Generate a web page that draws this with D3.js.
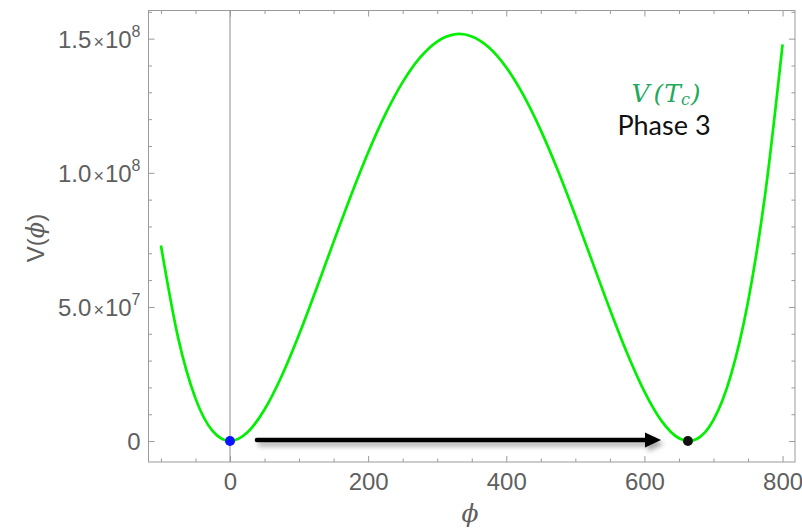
<!DOCTYPE html>
<html>
<head>
<meta charset="utf-8">
<script src="https://cdn.jsdelivr.net/npm/d3@7"></script>
<style>
  html, body { margin: 0; padding: 0; background: #fff; }
  svg { display: block; }
</style>
</head>
<body>
<svg id="chart" width="802" height="532"></svg>
<script>
// ---- data ----
const phiValues = [-100, -75, -50, -25, 0, 25, 50, 75, 100, 125, 150, 175, 200, 225, 250, 275, 300, 325, 332, 350, 375, 400, 425, 450, 475, 500, 525, 550, 575, 600, 625, 650, 664, 675, 700, 725, 750, 775, 800];
const potentialValues = [7.29e7, 3.837e7, 1.592e7, 3.706e6, 0, 3.188e6, 1.177e7, 2.437e7, 3.973e7, 5.67e7, 7.425e7, 9.147e7, 1.0756e8, 1.2186e8, 1.338e8, 1.4293e8, 1.4894e8, 1.5161e8, 1.5175e8, 1.5085e8, 1.467e8, 1.3928e8, 1.2887e8, 1.1583e8, 1.0066e8, 8.398e7, 6.651e7, 4.91e7, 3.271e7, 1.842e7, 7.42e6, 1.03e6, 0, 6.9e5, 7.93e6, 2.443e7, 5.196e7, 9.243e7, 1.4785e8];
const xTickValues = [0, 200, 400, 600, 800];
const xMinorTickValues = [-100, -50, 50, 100, 150, 250, 300, 350, 450, 500, 550, 650, 700, 750];
const yTickValues = [0, 5e7, 1e8, 1.5e8];
const yTickMantissa = ["0", "5.0", "1.0", "1.5"];
const yTickExponent = ["", "7", "8", "8"];
const yMinorTickValues = [1e7, 2e7, 3e7, 4e7, 6e7, 7e7, 8e7, 9e7, 1.1e8, 1.2e8, 1.3e8, 1.4e8, 1.6e8];
const falseVacuum = [0, 0];
const trueVacuum = [663, 0];
const arrowStart = [39, 0];
const arrowEnd = [624, 0];
const legendLines = ["V(T_c)", "Phase 3"];

// ---- layout ----
const svg = d3.select("#chart");
const plotLeft = 148.5, plotRight = 795, plotTop = 10.5, plotBottom = 462;
const x = d3.scaleLinear().domain([-118, 818]).range([plotLeft, plotRight]);
const y = d3.scaleLinear().domain([-7.8e6, 1.605e8]).range([plotBottom, plotTop]);
const frameColor = "#9a9a9a";
const labelColor = "#5f5f5f";
const tickFont = "'Liberation Sans', Arimo, Arial, sans-serif";

const defs = svg.append("defs");
const shadow = defs.append("filter").attr("id", "shadow")
  .attr("filterUnits", "userSpaceOnUse")
  .attr("x", 0).attr("y", 0).attr("width", 802).attr("height", 532);
shadow.append("feDropShadow").attr("dx", 3).attr("dy", 4).attr("stdDeviation", 2.5)
  .attr("flood-color", "#000").attr("flood-opacity", 0.35);

// vertical axis line at phi = 0
svg.append("line")
  .attr("x1", x(0)).attr("x2", x(0)).attr("y1", plotTop).attr("y2", plotBottom)
  .attr("stroke", "#8c8c8c").attr("stroke-width", 1);

// axes (ticks inward)
function styleAxis(g) {
  g.select(".domain").remove();
  g.selectAll(".tick line").attr("stroke", frameColor).attr("stroke-width", 1);
}
const fmtNone = () => "";
svg.append("g").attr("transform", `translate(0,${plotBottom})`)
  .call(d3.axisBottom(x).tickValues(xMinorTickValues).tickSize(-3.5).tickFormat(fmtNone)).call(styleAxis);
const xAxisG = svg.append("g").attr("transform", `translate(0,${plotBottom})`)
  .call(d3.axisBottom(x).tickValues(xTickValues).tickSize(-6).tickPadding(11)).call(styleAxis);
xAxisG.selectAll(".tick text")
  .attr("fill", labelColor).attr("font-family", tickFont).attr("font-size", 24);

svg.append("g").attr("transform", `translate(0,${plotTop})`)
  .call(d3.axisTop(x).tickValues(xMinorTickValues).tickSize(-3.5).tickFormat(fmtNone)).call(styleAxis);
svg.append("g").attr("transform", `translate(0,${plotTop})`)
  .call(d3.axisTop(x).tickValues(xTickValues).tickSize(-6).tickFormat(fmtNone)).call(styleAxis);

svg.append("g").attr("transform", `translate(${plotLeft},0)`)
  .call(d3.axisLeft(y).tickValues(yMinorTickValues).tickSize(-3.5).tickFormat(fmtNone)).call(styleAxis);
const yAxisG = svg.append("g").attr("transform", `translate(${plotLeft},0)`)
  .call(d3.axisLeft(y).tickValues(yTickValues).tickSize(-6).tickPadding(8)).call(styleAxis);
yAxisG.selectAll(".tick text").each(function(d) {
  const t = d3.select(this).text("")
    .attr("fill", labelColor).attr("font-family", tickFont).attr("font-size", 24)
    .attr("dy", "0.36em");
  const k = yTickValues.indexOf(d);
  t.append("tspan").text(yTickMantissa[k]);
  if (yTickExponent[k] !== "") {
    t.append("tspan").attr("dx", 2).attr("font-size", 18).text("\u00d7");
    t.append("tspan").attr("dx", 1).text("10");
    t.append("tspan").attr("font-size", 16).attr("dy", -11).text(yTickExponent[k]);
  }
});

svg.append("g").attr("transform", `translate(${plotRight},0)`)
  .call(d3.axisRight(y).tickValues(yMinorTickValues).tickSize(-3.5).tickFormat(fmtNone)).call(styleAxis);
svg.append("g").attr("transform", `translate(${plotRight},0)`)
  .call(d3.axisRight(y).tickValues(yTickValues).tickSize(-6).tickFormat(fmtNone)).call(styleAxis);

// frame
svg.append("rect")
  .attr("x", plotLeft).attr("y", plotTop).attr("width", plotRight - plotLeft).attr("height", plotBottom - plotTop)
  .attr("fill", "none").attr("stroke", frameColor).attr("stroke-width", 1);

// curve
const pts = phiValues.map((p, i) => [p, potentialValues[i]]);
const line = d3.line().x(d => x(d[0])).y(d => y(d[1])).curve(d3.curveMonotoneX);
svg.append("path").datum(pts)
  .attr("d", line).attr("fill", "none").attr("stroke", "#00f000").attr("stroke-width", 2.7);

// arrow (shaft + head) with drop shadow
const ax0 = x(arrowStart[0]), ax1 = x(arrowEnd[0]), ay = y(arrowStart[1]) - 1;
const arrowG = svg.append("g").attr("filter", "url(#shadow)");
arrowG.append("line")
  .attr("x1", ax0).attr("y1", ay).attr("x2", ax1 - 12).attr("y2", ay)
  .attr("stroke", "#000").attr("stroke-width", 4.5).attr("stroke-linecap", "round");
arrowG.append("path")
  .attr("d", `M${ax1 - 16},${ay - 7.5} L${ax1},${ay} L${ax1 - 16},${ay + 7.5} Z`)
  .attr("fill", "#000");

// vacuum points
svg.append("circle").attr("cx", x(falseVacuum[0])).attr("cy", y(falseVacuum[1])).attr("r", 5).attr("fill", "#0a14ff");
svg.append("circle").attr("cx", x(trueVacuum[0])).attr("cy", y(trueVacuum[1])).attr("r", 5).attr("fill", "#111");

// axis labels
svg.append("text").attr("x", 470).attr("y", 522).attr("text-anchor", "middle")
  .attr("fill", labelColor).attr("font-family", "DejaVu Serif, serif").attr("font-style", "italic")
  .attr("font-size", 25).text("\u03d5");
const yLab = svg.append("text").attr("transform", "translate(44,238) rotate(-90)").attr("text-anchor", "middle")
  .attr("fill", labelColor).attr("font-family", tickFont).attr("font-size", 24);
yLab.append("tspan").text("V(");
yLab.append("tspan").attr("font-family", "DejaVu Serif, serif").attr("font-style", "italic").text("\u03d5");
yLab.append("tspan").text(")");

// legend text
const leg1 = svg.append("text").attr("x", 666).attr("y", 102).attr("text-anchor", "middle")
  .attr("fill", "#1faa5c").attr("font-family", "DejaVu Serif, serif").attr("font-style", "italic").attr("font-size", 25);
leg1.append("tspan").text("V");
leg1.append("tspan").attr("dx", 4).text("(");
leg1.append("tspan").attr("dx", 1).text("T");
leg1.append("tspan").attr("font-size", 16).attr("dy", 3).text("c");
leg1.append("tspan").attr("dy", -3).attr("dx", 1).text(")");
svg.append("text").attr("x", 664).attr("y", 135).attr("text-anchor", "middle")
  .attr("fill", "#111").attr("font-family", "Lato, sans-serif").attr("font-size", 27)
  .text(legendLines[1]);
</script>
</body>
</html>
